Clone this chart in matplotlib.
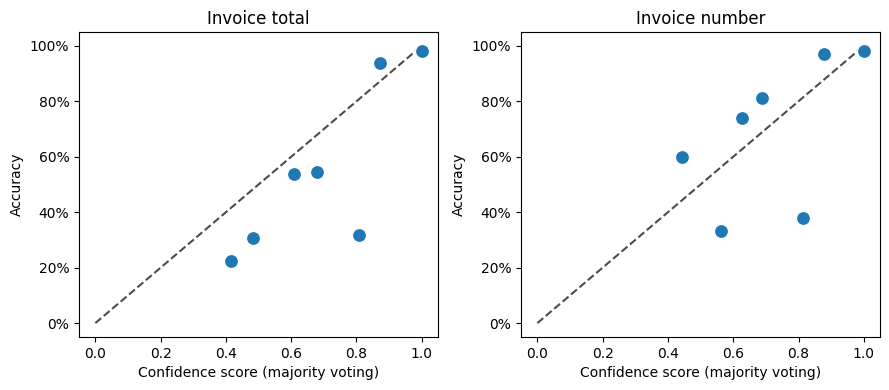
import numpy as np
import matplotlib
matplotlib.use("Agg")
import matplotlib.pyplot as plt
from matplotlib.ticker import PercentFormatter

titles = ["Invoice total", "Invoice number"]

total_conf = [0.417, 0.483, 0.610, 0.678, 0.807, 0.871, 1.0]
total_acc = [0.224, 0.307, 0.539, 0.546, 0.318, 0.937, 0.980]

number_conf = [0.442, 0.564, 0.626, 0.687, 0.813, 0.878, 1.0]
number_acc = [0.600, 0.333, 0.741, 0.813, 0.380, 0.972, 0.980]

fig, axs = plt.subplots(1, 2, figsize=(8.89, 3.9), dpi=100)

for ax, title, xs, ys in zip(axs, titles, [total_conf, number_conf], [total_acc, number_acc]):
    ax.plot([0, 1], [0, 1], "k--", alpha=0.7)
    ax.scatter(xs, ys, s=100, color="#1f77b4", edgecolor="white", linewidth=0.8, zorder=3)
    ax.set_title(title)
    ax.set_xlabel("Confidence score (majority voting)")
    ax.set_ylabel("Accuracy")
    ax.yaxis.set_major_formatter(PercentFormatter(1.0, decimals=0))

fig.subplots_adjust(left=0.0889, right=0.99, top=0.918, bottom=0.136, wspace=0.231)
plt.savefig("out.png")
